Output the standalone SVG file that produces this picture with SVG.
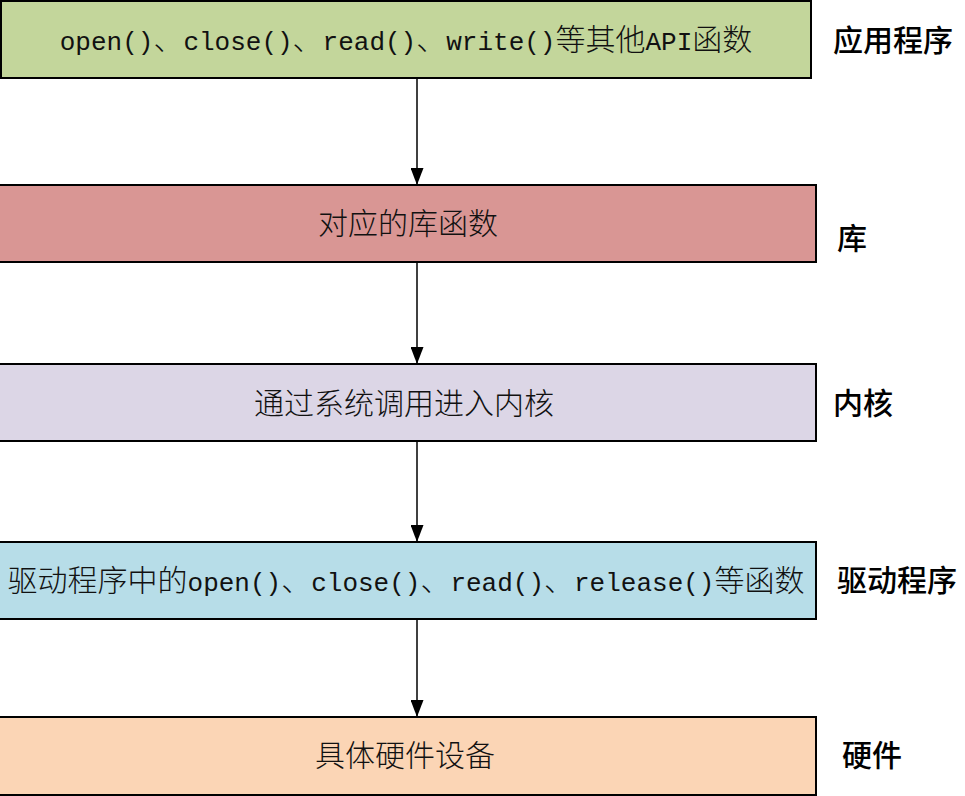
<svg xmlns="http://www.w3.org/2000/svg" width="965" height="796" viewBox="0 0 965 796">
<defs>
<marker id="arr" markerWidth="17" markerHeight="13" refX="17" refY="6.5" orient="auto" markerUnits="userSpaceOnUse" viewBox="0 0 17 13">
<path d="M0,0 L17,6.5 L0,13 Z" fill="#000"/>
</marker>
</defs>
<style>
.box{stroke:#000;stroke-width:2}
.t{font-family:"Liberation Mono","Noto Sans CJK SC",monospace;font-size:26px;fill:#111;text-anchor:middle}
.c{font-family:"Noto Sans CJK SC",sans-serif;font-size:30px;font-weight:300}
.lbl{font-family:"Noto Sans CJK SC",sans-serif;font-size:30px;fill:#000;font-weight:500}
.conn line{stroke:#000;stroke-width:1.5;marker-end:url(#arr)}
</style>
<rect width="965" height="796" fill="#fff"/>
<g id="app">
<rect class="box" x="1" y="1" width="810" height="77" fill="#c3d69b"/>
<text class="t" x="406" y="50">open()<tspan class="c">、</tspan>close()<tspan class="c">、</tspan>read()<tspan class="c">、</tspan>write()<tspan class="c">等其他</tspan>API<tspan class="c">函数</tspan></text>
<text class="lbl" x="833" y="51">应用程序</text>
</g>
<g id="lib">
<rect class="box" x="-2" y="185" width="818" height="77" fill="#d99694"/>
<text class="t" x="408" y="234"><tspan class="c">对应的库函数</tspan></text>
<text class="lbl" x="837" y="249">库</text>
</g>
<g id="kernel">
<rect class="box" x="-2" y="364" width="818" height="77" fill="#dcd6e6"/>
<text class="t" x="404" y="414"><tspan class="c">通过系统调用进入内核</tspan></text>
<text class="lbl" x="833" y="414">内核</text>
</g>
<g id="driver">
<rect class="box" x="-2" y="542" width="818" height="77" fill="#b7dde8"/>
<text class="t" x="406" y="591"><tspan class="c">驱动程序中的</tspan>open()<tspan class="c">、</tspan>close()<tspan class="c">、</tspan>read()<tspan class="c">、</tspan>release()<tspan class="c">等函数</tspan></text>
<text class="lbl" x="837" y="591">驱动程序</text>
</g>
<g id="hw">
<rect class="box" x="-2" y="717" width="818" height="78" fill="#fbd5b5"/>
<text class="t" x="405" y="766"><tspan class="c">具体硬件设备</tspan></text>
<text class="lbl" x="842" y="766">硬件</text>
</g>
<g class="conn" id="connectors">
<line x1="417" y1="79" x2="417" y2="185"/>
<line x1="417" y1="263" x2="417" y2="364"/>
<line x1="417" y1="442" x2="417" y2="542"/>
<line x1="417" y1="620" x2="417" y2="717"/>
</g>
</svg>
